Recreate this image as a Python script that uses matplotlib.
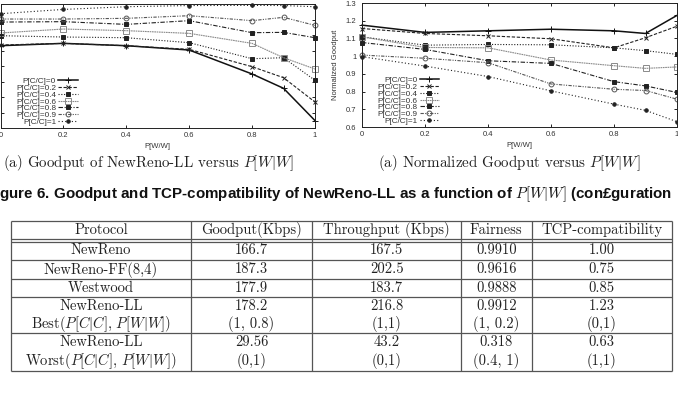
import matplotlib.pyplot as plt
from matplotlib.font_manager import FontProperties

plt.rcParams['mathtext.fontset'] = 'cm'

# x values shared by every curve
p_ww = [0, 0.2, 0.4, 0.6, 0.8, 0.9, 1]
series_labels = ['P[C/C]=0', 'P[C/C]=0.2', 'P[C/C]=0.4', 'P[C/C]=0.6',
                 'P[C/C]=0.8', 'P[C/C]=0.9', 'P[C/C]=1']

# (a) goodput (Kbps)
goodput_cc0 = [126.2, 129.2, 126.2, 120.6, 89.7, 71.2, 29.56]
goodput_cc02 = [127.1, 129.2, 126.2, 121.5, 99.1, 84.9, 53.5]
goodput_cc04 = [139.1, 137.4, 136.5, 130.1, 109.4, 110.7, 81.5]
goodput_cc06 = [142.6, 147.7, 145.6, 142.1, 129.2, 110.7, 96.1]
goodput_cc08 = [156.7, 157.2, 153.7, 158.5, 143.0, 143.4, 136.5]
goodput_cc09 = [160.6, 160.6, 161.5, 164.9, 158.5, 162.8, 152.4]
goodput_cc1 = [167.5, 173.0, 176.5, 178.0, 178.2, 178.0, 176.5]

# (a) normalized goodput
norm_cc0 = [1.175, 1.134, 1.143, 1.152, 1.143, 1.128, 1.23]
norm_cc02 = [1.156, 1.128, 1.115, 1.098, 1.047, 1.104, 1.169]
norm_cc04 = [1.109, 1.062, 1.066, 1.064, 1.047, 1.031, 1.010]
norm_cc06 = [1.109, 1.049, 1.047, 0.978, 0.946, 0.931, 0.939]
norm_cc08 = [1.077, 1.038, 0.974, 0.959, 0.856, 0.832, 0.795]
norm_cc09 = [1.006, 0.988, 0.963, 0.843, 0.813, 0.806, 0.757]
norm_cc1 = [0.997, 0.944, 0.885, 0.804, 0.729, 0.694, 0.63]

# table contents (each cell may hold two lines)
table_header = ['Protocol', 'Goodput(Kbps)', 'Throughput (Kbps)', 'Fairness', 'TCP-compatibility']
protocols = [['NewReno'], ['NewReno-FF(8,4)'], ['Westwood'],
             ['NewReno-LL', r'Best($P[C|C],\,P[W|W]$)'],
             ['NewReno-LL', r'Worst($P[C|C],\,P[W|W]$)']]
goodput_col = [['166.7'], ['187.3'], ['177.9'], ['178.2', '(1, 0.8)'], ['29.56', '(0,1)']]
throughput_col = [['167.5'], ['202.5'], ['183.7'], ['216.8', '(1,1)'], ['43.2', '(0,1)']]
fairness_col = [['0.9910'], ['0.9616'], ['0.9888'], ['0.9912', '(1, 0.2)'], ['0.318', '(0.4, 1)']]
tcpcompat_col = [['1.00'], ['0.75'], ['0.85'], ['1.23', '(0,1)'], ['0.63', '(1,1)']]

# gnuplot-like line styles: (color, dashes, marker, marker size, marker face, lw)
styles = [
    ('#111111', None, '+', 4, 'none', 1.1),
    ('#222222', (3, 1.5), 'x', 3.5, 'none', 0.8),
    ('#222222', (1, 1.5), 's', 2.5, '#222222', 0.8),
    ('#8a8a8a', (1.5, 0.6), 's', 4, 'none', 0.8),
    ('#222222', (4, 1.5, 1, 1.5), 's', 3, '#222222', 0.8),
    ('#555555', (3, 1.2, 1, 1.2, 1, 1.2), 'o', 3.5, 'none', 0.8),
    ('#222222', (1, 2), 'o', 2.5, '#222222', 0.8),
]

W, H = 678, 394
fig = plt.figure(figsize=(W / 100, H / 100), dpi=100)

small = FontProperties(family='Liberation Sans', size=5.5)
leg_font = FontProperties(family='Liberation Sans', size=5.9)
cmr = 'cmr10'


def px_axes(x0, y0, x1, y1):
    # axes box given in pixel coords (top-left origin)
    return fig.add_axes([x0 / W, 1 - y1 / H, (x1 - x0) / W, (y1 - y0) / H])


def style_axes(ax, ylim, yticks):
    ax.set_xlim(0, 1)
    ax.set_ylim(*ylim)
    ax.set_xticks([0, 0.2, 0.4, 0.6, 0.8, 1])
    ax.set_xticklabels(['0', '0.2', '0.4', '0.6', '0.8', '1'])
    ax.set_yticks(yticks)
    ax.set_yticklabels([f'{v:g}' for v in yticks])
    ax.tick_params(direction='in', length=2.5, width=0.6, top=True, right=True,
                   labelsize=5.5, labelcolor='#333333', pad=3)
    ax.tick_params(axis='y', pad=4)
    for lab in ax.get_xticklabels() + ax.get_yticklabels():
        lab.set_family('Liberation Sans')
    for sp in ax.spines.values():
        sp.set_linewidth(0.7)
        sp.set_color('#222222')
    ax.set_xlabel('P[W/W]', fontproperties=small, color='#333333', labelpad=3)


def draw_series(ax, data):
    for vals, lab, st in zip(data, series_labels, styles):
        color, dashes, marker, ms, mfc, lw = st
        line, = ax.plot(p_ww, vals, color=color, lw=lw, marker=marker, ms=ms,
                        mfc=mfc, mec=color, mew=0.7, label=lab, clip_on=False)
        if dashes is not None:
            line.set_dashes(dashes)
    ax.legend(loc='lower left', bbox_to_anchor=(0.036, -0.015), markerfirst=False,
              frameon=False, borderpad=0, labelspacing=-0.12, handlelength=2.4,
              handletextpad=0.25, prop=leg_font, labelcolor='#333333')


# left plot: goodput (its y tick labels sit outside the cropped page)
ax1 = px_axes(0.5, 4, 315, 128)
draw_series(ax1, [goodput_cc0, goodput_cc02, goodput_cc04, goodput_cc06,
                  goodput_cc08, goodput_cc09, goodput_cc1])
style_axes(ax1, (20, 180), list(range(20, 181, 20)))
ax1.tick_params(axis='y', labelleft=False)

# right plot: normalized goodput
ax2 = px_axes(362, 3, 677, 127)
draw_series(ax2, [norm_cc0, norm_cc02, norm_cc04, norm_cc06,
                  norm_cc08, norm_cc09, norm_cc1])
style_axes(ax2, (0.6, 1.3), [0.6, 0.7, 0.8, 0.9, 1.0, 1.1, 1.2, 1.3])
ax2.set_ylabel('Normalized Goodput', fontproperties=small, color='#333333', labelpad=5)

# page overlay for captions and table
page = fig.add_axes([0, 0, 1, 1], zorder=-1)
page.set_xlim(0, W)
page.set_ylim(H, 0)
page.axis('off')

page.text(148.5, 163, '(a) Goodput of NewReno-LL versus $P[W|W]$', family=cmr,
          fontsize=10.8, ha='center', va='center', color='#222222')
page.text(509.5, 163, '(a) Normalized Goodput versus $P[W|W]$', family=cmr,
          fontsize=10.8, ha='center', va='center', color='#222222')
page.text(672, 194.5, 'Figure 6. Goodput and TCP-compatibility of NewReno-LL as a '
          'function of $P[W|W]$ (con£guration', family='Liberation Sans',
          weight='bold', fontsize=10.9, ha='right', va='center', color='#111111')

# table grid
col_edges = [11, 190.7, 312.3, 461, 531.6, 672]
row_rules = [221, 239, 241.7, 260, 279, 296.7, 333.3, 370.7]
rule_kw = dict(color='#555555', lw=0.9)
page.hlines(row_rules, col_edges[0], col_edges[-1], **rule_kw)
page.vlines(col_edges, row_rules[0], row_rules[-1], **rule_kw)

header_y = 230
row_lines = [[250.5], [269.5], [288], [305.7, 323.7], [342.3, 360.7]]
columns = [protocols, goodput_col, throughput_col, fairness_col, tcpcompat_col]
for i, head in enumerate(table_header):
    cx = (col_edges[i] + col_edges[i + 1]) / 2
    page.text(cx, header_y, head, family=cmr, fontsize=10.5, ha='center',
              va='center', color='#222222')
    for ys, cell in zip(row_lines, columns[i]):
        for cy, txt in zip(ys, cell):
            page.text(cx, cy, txt, family=cmr, fontsize=10.5, ha='center',
                      va='center', color='#222222')

fig.savefig('out.png', dpi=100)
